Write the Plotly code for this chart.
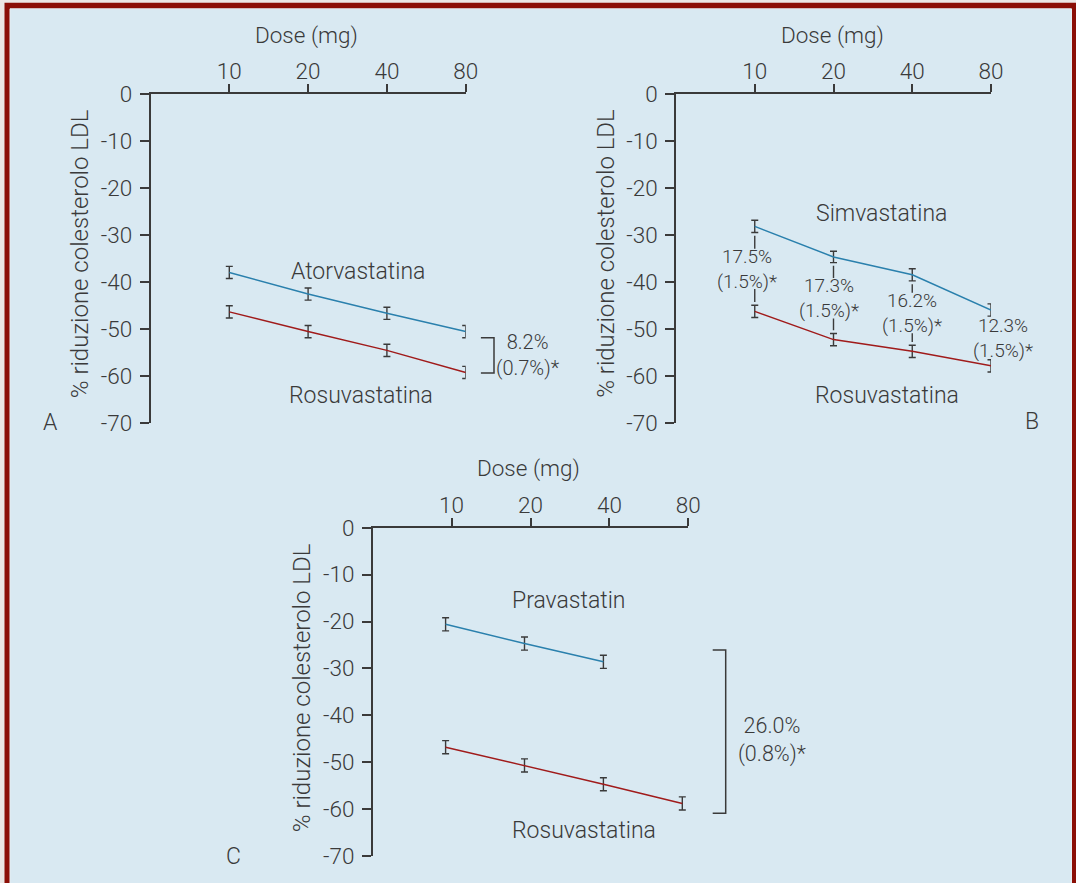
import math
import plotly.graph_objects as go

W, H = 1076, 883

# ---------------- data ----------------
doses = [10, 20, 40, 80]
dose_labels = ["10", "20", "40", "80"]
y_ticks = [0, -10, -20, -30, -40, -50, -60, -70]
y_ticklabels = ["0", "-10", "-20", "-30", "-40", "-50", "-60", "-70"]

# Panel A
atorva = [-38.0, -42.6, -46.7, -50.6]
atorva_err = [1.3, 1.3, 1.3, 1.3]
rosu_A = [-46.4, -50.6, -54.6, -59.3]
rosu_A_err = [1.3, 1.3, 1.3, 1.3]
bracket_A = [-51.9, -59.4]
diff_A = ["8.2%", "(0.7%)*"]

# Panel B
simva = [-28.2, -34.7, -38.5, -46.0]
simva_err = [1.3, 1.2, 1.3, 1.3]
rosu_B = [-46.3, -52.3, -54.8, -57.9]
rosu_B_err = [1.3, 1.3, 1.3, 1.3]
diff_B = ["17.5%", "17.3%", "16.2%", "12.3%"]
diff_B_sd = ["(1.5%)*", "(1.5%)*", "(1.5%)*", "(1.5%)*"]
diff_B_shift = [-8, -5, 0, 12]
connector_doses = [10, 20, 40]

# Panel C
prava_doses = [10, 20, 40]
prava = [-20.6, -24.7, -28.6]
prava_err = [1.4, 1.4, 1.4]
rosu_C = [-46.8, -50.7, -54.7, -58.8]
rosu_C_err = [1.4, 1.4, 1.4, 1.4]
bracket_C = [-26.1, -60.9]
diff_C = ["26.0%", "(0.8%)*"]
diff_C_y = -45.3

# ---------------- style ----------------
BG = "#d9e9f2"
RED_BORDER = "#8b0f06"
OUTER = "#ebe7e4"
BLUE = "#2a80ad"
RED = "#a01b1b"
INK = "#3a3a3a"
AX = "#3a3a3a"
FONT = "Roboto"
FW = 300
LABEL_HALF = 4.3   # half height of the two-line labels of panel B (data units)
CAP_GAP = 0.7      # gap between error-bar cap and connector (data units)


def fx(p):
    return p / W


def fy(p):
    return 1 - p / H


def fnt(size):
    return dict(family=FONT, size=size, color=INK, weight=FW)


LOGMIN, LOGMAX = math.log10(5), math.log10(80)

fig = go.Figure()


def series(x, y, err, color, xa, ya):
    fig.add_trace(go.Scatter(
        x=x, y=y, mode="lines", xaxis=xa, yaxis=ya, cliponaxis=False,
        line=dict(color=color, width=1.5),
        error_y=dict(type="data", array=err, color=AX, thickness=1.4, width=3.5),
        showlegend=False, hoverinfo="skip"))


# Panel B connectors: segments above and below each difference label
cx, cy = [], []
for d in connector_doses:
    i = doses.index(d)
    mid = (simva[i] + rosu_B[i]) / 2
    top = simva[i] - simva_err[i] - CAP_GAP
    bot = rosu_B[i] + rosu_B_err[i] + CAP_GAP
    cx += [d, d, None, d, d, None]
    cy += [top, mid + LABEL_HALF, None, mid - LABEL_HALF, bot, None]
fig.add_trace(go.Scatter(x=cx, y=cy, mode="lines", xaxis="x2", yaxis="y2",
                         line=dict(color=AX, width=1.4), showlegend=False,
                         hoverinfo="skip"))

series(doses, atorva, atorva_err, BLUE, "x", "y")
series(doses, rosu_A, rosu_A_err, RED, "x", "y")
series(doses, simva, simva_err, BLUE, "x2", "y2")
series(doses, rosu_B, rosu_B_err, RED, "x2", "y2")
fig.add_trace(go.Scatter(x=[], y=[], xaxis="x3", yaxis="y3", showlegend=False))
series(prava_doses, prava, prava_err, BLUE, "x4", "y3")
series(doses, rosu_C, rosu_C_err, RED, "x4", "y3")


def xax(dom, anchor, rng=(LOGMIN, LOGMAX)):
    return dict(type="log", range=list(rng), domain=[fx(dom[0]), fx(dom[1])],
                anchor=anchor, side="top", tickvals=doses, ticktext=dose_labels,
                ticks="outside", ticklen=8, tickwidth=1.5, tickcolor=AX,
                showline=True, linecolor=AX, linewidth=1.5, showgrid=False,
                zeroline=False, tickfont=fnt(22.5), fixedrange=True,
                automargin=False, ticklabelstandoff=-4)


def yax(dom, anchor):
    return dict(range=[-70, 0], domain=[fy(dom[1]), fy(dom[0])], anchor=anchor,
                tickvals=y_ticks, ticktext=y_ticklabels, ticks="outside",
                ticklen=9, tickwidth=1.5, tickcolor=AX, showline=True,
                linecolor=AX, linewidth=1.5, showgrid=False, zeroline=False,
                tickfont=fnt(22.5), fixedrange=True, automargin=False,
                ticklabelstandoff=3)


dA = (150.5, 465.7)
dB = (676.0, 991.0)
dC = (372.7, 688.3)
vAB = (94.0, 422.7)
vC = (527.7, 856.0)
shiftC = 6 * (LOGMAX - LOGMIN) / (dC[1] - dC[0])

fig.update_layout(
    width=W, height=H,
    margin=dict(l=0, r=0, t=0, b=0, pad=0, autoexpand=False),
    paper_bgcolor=OUTER, plot_bgcolor="rgba(0,0,0,0)",
    xaxis=xax(dA, "y"), yaxis=yax(vAB, "x"),
    xaxis2=xax(dB, "y2"), yaxis2=yax(vAB, "x2"),
    xaxis3=xax(dC, "y3"), yaxis3=yax(vC, "x3"),
    xaxis4=dict(type="log", range=[LOGMIN + shiftC, LOGMAX + shiftC],
                overlaying="x3", anchor="y3", visible=False, fixedrange=True,
                automargin=False),
)

shapes = [
    dict(type="rect", xref="paper", yref="paper", x0=fx(4.5), x1=fx(1085),
         y0=fy(900), y1=fy(2.7), fillcolor=RED_BORDER, line=dict(width=0),
         layer="below"),
    dict(type="rect", xref="paper", yref="paper", x0=fx(10), x1=fx(1071.5),
         y0=fy(900), y1=fy(8.8), fillcolor=BG,
         line=dict(width=1, color="#e6edf1"), layer="below"),
    dict(type="path", xref="paper", yref="y",
         path=f"M {fx(480.9)},{bracket_A[0]} L {fx(494)},{bracket_A[0]} "
              f"L {fx(494)},{bracket_A[1]} L {fx(480.9)},{bracket_A[1]}",
         line=dict(color=AX, width=1.5)),
    dict(type="path", xref="paper", yref="y3",
         path=f"M {fx(712.7)},{bracket_C[0]} L {fx(725.7)},{bracket_C[0]} "
              f"L {fx(725.7)},{bracket_C[1]} L {fx(712.7)},{bracket_C[1]}",
         line=dict(color=AX, width=1.5)),
]
fig.update_layout(shapes=shapes)

ann = []


def txt(x, y, s, size=23, angle=0):
    ann.append(dict(x=fx(x), y=fy(y), xref="paper", yref="paper", text=s,
                    showarrow=False, xanchor="center", yanchor="middle",
                    textangle=angle, font=fnt(size)))


for (x, y) in [(306.7, 35), (832.5, 35), (528.3, 469)]:
    txt(x, y, "Dose (mg)", size=22.5)
for (x, y) in [(79.9, 253.3), (605.8, 253.0), (301.7, 687.5)]:
    txt(x, y, "% riduzione colesterolo LDL", size=24, angle=-90)

txt(50, 422.7, "A")
txt(1032, 421.7, "B")
txt(233.3, 856, "C")

txt(358.4, 271, "Atorvastatina")
txt(361.3, 395, "Rosuvastatina")
txt(881.4, 213.3, "Simvastatina")
txt(886.6, 395, "Rosuvastatina")
txt(568.5, 600, "Pravastatin")
txt(583.5, 830, "Rosuvastatina")

ann.append(dict(x=fx(528), y=(bracket_A[0] + bracket_A[1]) / 2, xref="paper",
                yref="y", text="<br>".join(diff_A), showarrow=False,
                xanchor="center", yanchor="middle", font=fnt(20)))
ann.append(dict(x=fx(772), y=diff_C_y, xref="paper", yref="y3",
                text="<br>".join(diff_C), showarrow=False, xanchor="center",
                yanchor="middle", font=fnt(21.5)))
for i, d in enumerate(doses):
    ann.append(dict(x=math.log10(d), y=(simva[i] + rosu_B[i]) / 2, xref="x2",
                    yref="y2", text=diff_B[i] + "<br>" + diff_B_sd[i],
                    showarrow=False, xanchor="center", yanchor="middle",
                    xshift=diff_B_shift[i], font=fnt(19)))

fig.update_layout(annotations=ann)

fig.write_html("out.html",
               config={"displayModeBar": False},
               post_script="document.body.style.margin='0';"
                           "document.body.style.overflow='hidden';")
